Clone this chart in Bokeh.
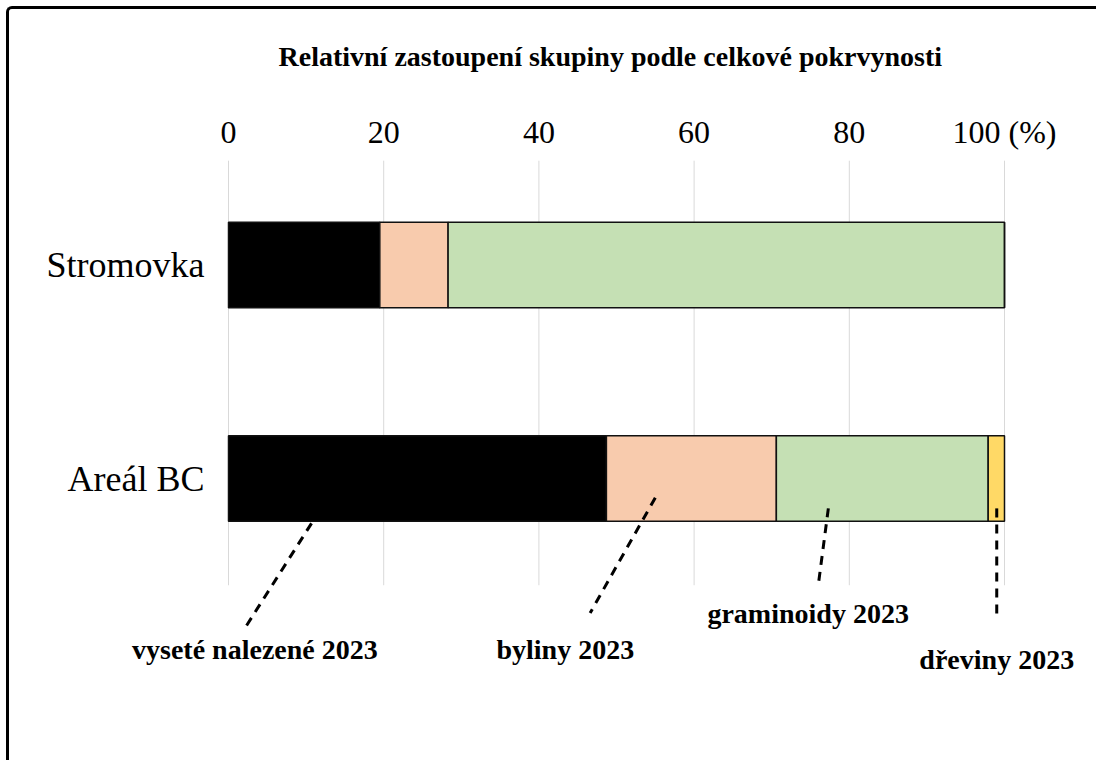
from bokeh.plotting import figure
from bokeh.models import ColumnDataSource, FixedTicker, Range1d, Title
from bokeh.core.properties import value
from bokeh.embed import file_html
from bokeh.resources import INLINE

# ---- data ----
sites = ["Areál BC", "Stromovka"]
site_pos = [0, 1]
groups = ["vyseté nalezené 2023", "byliny 2023", "graminoidy 2023", "dřeviny 2023"]
vysete = [48.7, 19.5]
byliny = [21.9, 8.8]
graminoidy = [27.3, 71.7]
dreviny = [2.1, 0.0]
x_ticks = [0, 20, 40, 60, 80, 100]
title_text = "Relativní zastoupení skupiny podle celkové pokrvynosti"

colors = ["#000000", "#F8CBAD", "#C5E0B4", "#FFD966"]

# leader-line annotations (anchor in bar -> label)
ann_x0 = [10.7, 55.0, 77.3, 99.0]
ann_y0 = [-0.21, -0.09, -0.14, -0.14]
ann_x1 = [2.3, 46.6, 76.0, 99.0]
ann_y1 = [-0.69, -0.63, -0.50, -0.66]
lab_x = [3.4, 43.4, 74.7, 99.0]
lab_y = [-0.80, -0.80, -0.63, -0.85]

SERIF = "Liberation Serif"

# layout geometry (page pixels): x=0 at 228, x=100 at 1004; y=0 at 478, y=1 at 264.5
PX_X = 7.76
PX_Y = 213.5
CAN_X0, CAN_Y0 = 9, 9
W, H = 1090, 754
TOP = 151
x_start = (CAN_X0 - 228) / PX_X
x_end = (CAN_X0 + W - 228) / PX_X
y_end = (478 - (CAN_Y0 + TOP)) / PX_Y
y_start = (478 - (CAN_Y0 + H)) / PX_Y

p = figure(width=W, height=H, output_backend="svg", toolbar_location=None,
           x_range=Range1d(x_start, x_end), y_range=Range1d(y_start, y_end),
           x_axis_location="above", y_axis_location=None,
           min_border_left=0, min_border_right=0, min_border_top=TOP,
           min_border_bottom=0)
p.styles = {"margin-left": "6px", "margin-top": "6px",
            "border-top": "3px solid black", "border-left": "3px solid black",
            "border-top-left-radius": "6px"}
p.outline_line_color = None
p.background_fill_color = "white"
p.border_fill_color = "white"
p.xgrid.visible = False
p.ygrid.visible = False

# vertical gridlines limited to the category band
p.segment(x0=x_ticks, x1=x_ticks, y0=[-0.5] * len(x_ticks), y1=[1.49] * len(x_ticks),
          line_color="#d9d9d9", line_width=1)

src = ColumnDataSource(dict(y=site_pos, v0=vysete, v1=byliny, v2=graminoidy, v3=dreviny))
p.hbar_stack(["v0", "v1", "v2", "v3"], y="y", height=0.4, source=src,
             fill_color=colors, line_color="#111111", line_width=1.5)

# category labels
p.text(x=[-3.1] * len(sites), y=site_pos, text=sites, text_align="right",
       text_baseline="middle", text_font=value(SERIF), text_font_size="36px",
       text_color="black")

# leader lines
p.segment(x0=ann_x0, y0=ann_y0, x1=ann_x1, y1=ann_y1, line_color="black",
          line_width=3, line_dash="9 7")

p.text(x=lab_x, y=lab_y, text=groups, text_align="center", text_baseline="middle",
       text_font=value(SERIF), text_font_style="bold", text_font_size="28px",
       text_color="black")

# axis
xa = p.xaxis[0]
xa.ticker = FixedTicker(ticks=x_ticks)
xa.major_label_overrides = {100: "100 (%)"}
xa.axis_line_color = None
xa.major_tick_line_color = None
xa.minor_tick_line_color = None
xa.major_label_text_font = SERIF
xa.major_label_text_font_size = "32px"
xa.major_label_text_color = "black"
xa.major_label_standoff = 5
# blank axis label used only as vertical spacer between ticks and title
xa.axis_label = " "
xa.axis_label_text_font = SERIF
xa.axis_label_text_font_size = "28px"
xa.axis_label_standoff = 0

p.add_layout(Title(text=title_text, align="left", offset=269, text_font=SERIF,
                   text_font_style="bold", text_font_size="28px",
                   text_color="black", standoff=10), "above")

open("out.html", "w").write(file_html(p, INLINE))
